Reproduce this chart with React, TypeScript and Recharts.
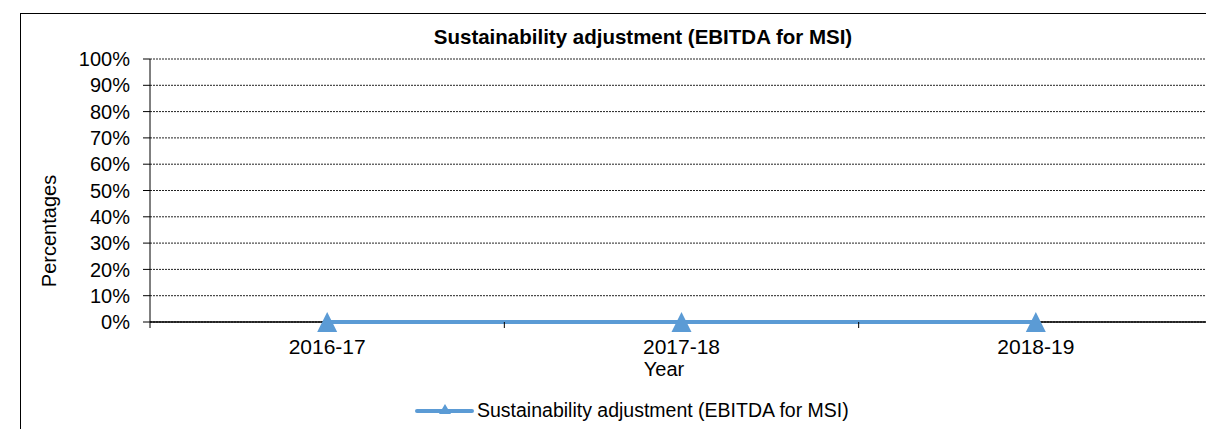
import React from 'react';
import { LineChart, Line, XAxis, YAxis, CartesianGrid, Legend, ReferenceLine } from 'recharts';

const categories = ['2016-17', '2017-18', '2018-19'];
const sustainabilityValues = [0, 0, 0];
const yTicks = [0, 10, 20, 30, 40, 50, 60, 70, 80, 90, 100];
const seriesName = 'Sustainability adjustment (EBITDA for MSI)';
const chartTitle = 'Sustainability adjustment (EBITDA for MSI)';

const data = categories.map((c, i) => ({ pos: i + 0.5, name: c, value: sustainabilityValues[i] }));
const xTicks: number[] = [];
for (let i = 0; i <= categories.length * 2; i++) xTicks.push(i / 2);

const FONT = '"Liberation Sans", Arial, sans-serif';
const BLUE = '#5B9BD5';

const XTick = (props: any) => {
  const { x, y, payload } = props;
  const v = payload.value as number;
  if (Number.isInteger(v)) {
    return <line x1={x} x2={x} y1={y - 6} y2={y} stroke="#000" strokeWidth={1} />;
  }
  const label = categories[Math.floor(v)];
  return (
    <text x={x} y={y + 26} textAnchor="middle" fontFamily={FONT} fontSize={21} fill="#000">
      {label}
    </text>
  );
};

const Triangle = (props: any) => {
  const { cx, cy } = props;
  if (cx == null || cy == null) return null;
  return <path d={`M${cx},${cy - 10} L${cx + 10},${cy + 10} L${cx - 10},${cy + 10} Z`} fill={BLUE} />;
};

const LegendContent = () => (
  <svg width={1240} height={30} style={{ display: 'block', overflow: 'visible' }}>
    <line x1={417} x2={472} y1={13} y2={13} stroke={BLUE} strokeWidth={4} strokeLinecap="round" />
    <path d="M445,6 L451,16 L439,16 Z" fill={BLUE} />
    <text x={477} y={19} fontFamily={FONT} fontSize={19.5} fill="#000">{seriesName}</text>
  </svg>
);

export default function App() {
  return (
    <div style={{ position: 'fixed', left: 0, top: 0, width: 1206, height: 429, overflow: 'hidden', background: '#fff', fontFamily: FONT }}>
      <style>{'html, body { overflow: hidden; }'}</style>
      <div style={{ position: 'absolute', left: 20, top: 13, width: 1400, height: 500, border: '1px solid #000', boxSizing: 'border-box' }} />
      <div style={{ position: 'absolute', left: 0, top: 27, width: 1286, textAlign: 'center', fontWeight: 'bold', fontSize: 20.5, lineHeight: '20px', color: '#000' }}>
        {chartTitle}
      </div>
      <div style={{ position: 'absolute', left: 0, top: 0 }}>
        <LineChart width={1240} height={429} data={data} margin={{ top: 59, left: 90, right: 27, bottom: 77 }}>
          <CartesianGrid vertical={false} stroke="#222" strokeDasharray="2 1" strokeWidth={1} />
          <ReferenceLine y={0} stroke="#000" strokeWidth={1.5} ifOverflow="extendDomain" />
          <XAxis
            dataKey="pos"
            type="number"
            domain={[0, categories.length]}
            ticks={xTicks}
            interval={0}
            height={30}
            tickSize={6}
            tickMargin={0}
            tickLine={false}
            axisLine={false}
            tick={<XTick />}
            label={(p: any) => {
              const vb = p.viewBox;
              return (
                <text x={vb.x + vb.width / 2 - 17.5} y={vb.y + 54} textAnchor="middle" fontFamily={FONT} fontSize={20} fill="#000">
                  Year
                </text>
              );
            }}
          />
          <YAxis
            type="number"
            domain={[0, 100]}
            ticks={yTicks}
            interval={0}
            width={60}
            tickSize={7}
            tickMargin={13}
            tickFormatter={(v: number) => `${v}%`}
            tick={{ fontFamily: FONT, fontSize: 20, fill: '#000' }}
            tickLine={{ stroke: '#000' }}
            axisLine={{ stroke: '#000' }}
            label={(p: any) => {
              const vb = p.viewBox;
              const cx = vb.x - 41;
              const cy = vb.y + vb.height / 2 + 40.5;
              return (
                <text x={cx} y={cy} transform={`rotate(-90, ${cx}, ${cy})`} textAnchor="middle" dominantBaseline="central" fontFamily={FONT} fontSize={20} fill="#000">
                  Percentages
                </text>
              );
            }}
          />
          <Legend
            content={<LegendContent />}
            wrapperStyle={{ top: 398, left: 0, bottom: 'auto', width: 1240, height: 0, overflow: 'visible' }}
          />
          <Line
            type="linear"
            dataKey="value"
            name={seriesName}
            stroke={BLUE}
            strokeWidth={4}
            dot={<Triangle />}
            activeDot={false}
            isAnimationActive={false}
          />
        </LineChart>
      </div>
    </div>
  );
}
